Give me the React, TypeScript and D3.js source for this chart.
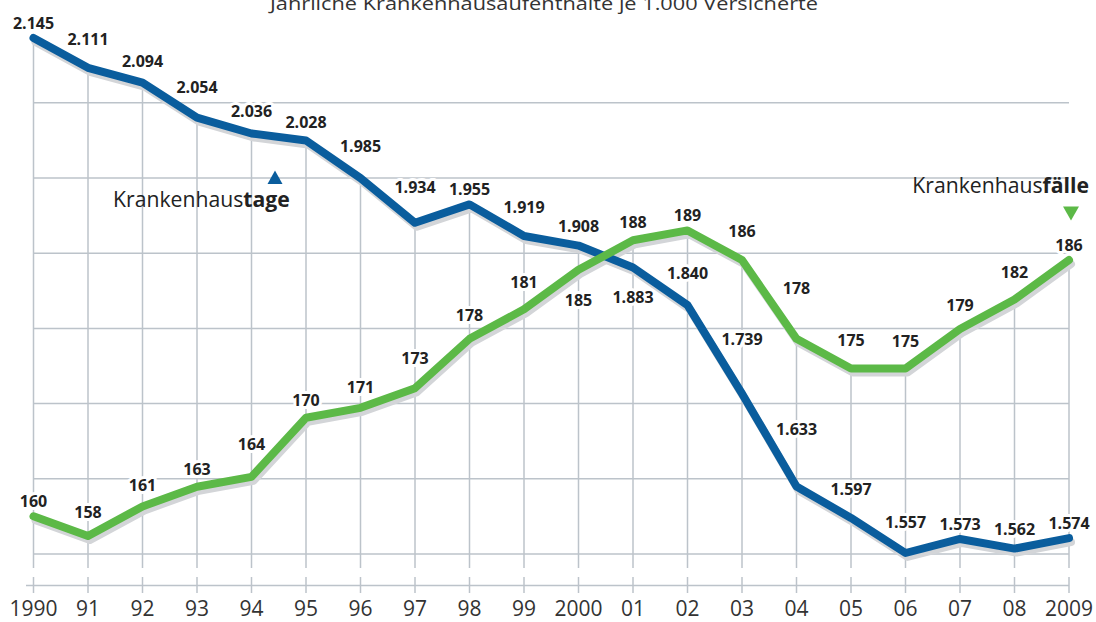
import React from "react";
import * as d3 from "d3";

// Jährliche Krankenhausaufenthalte je 1.000 Versicherte, 1990–2009
const years = [1990, 1991, 1992, 1993, 1994, 1995, 1996, 1997, 1998, 1999, 2000, 2001, 2002, 2003, 2004, 2005, 2006, 2007, 2008, 2009];
const yearLabels = ["1990", "91", "92", "93", "94", "95", "96", "97", "98", "99", "2000", "01", "02", "03", "04", "05", "06", "07", "08", "2009"];
const tage = [2145, 2111, 2094, 2054, 2036, 2028, 1985, 1934, 1955, 1919, 1908, 1883, 1840, 1739, 1633, 1597, 1557, 1573, 1562, 1574];
const faelle = [160, 158, 161, 163, 164, 170, 171, 173, 178, 181, 185, 188, 189, 186, 178, 175, 175, 179, 182, 186];
// years whose value label sits under the line
const tageBelow = [2001];
const faelleBelow = [2000];

const W = 1096;
const H = 622;
const BLUE = "#0a5d9d";
const GREEN = "#5cb947";
const SHADOW = "#d3d5d8";
const GRID = "#bcc3ca";
const TEXT = "#222";
const FONT = "'Open Sans', 'Noto Sans', sans-serif";

const fmt = (v: number) => (v >= 1000 ? d3.format(",")(v).replace(",", ".") : String(v));

// place the label above the point, pushed up when a steep segment runs into it
function labelY(ys: number[], i: number, below: boolean) {
  if (below) return ys[i] + 30;
  const dropIn = i > 0 ? ys[i] - ys[i - 1] : 0;
  const riseOut = i < ys.length - 1 ? ys[i] - ys[i + 1] : 0;
  return ys[i] - (15 + Math.max(0, 0.45 * dropIn, 0.3 * riseOut));
}

export default function App() {
  const x = d3.scalePoint<number>().domain(years).range([33.5, 1069]);
  const yTage = d3.scaleLinear().domain([1557, 2145]).range([553, 38]);
  const yFaelle = d3.scaleLinear().domain([158, 186]).range([536, 260]);

  const gridYs = d3.range(7).map((i) => 554 - i * 75.2);
  const axisY = 585.5;

  const tageYs = tage.map((v) => yTage(v));
  const faelleYs = faelle.map((v) => yFaelle(v));

  const line = d3
    .line<number>()
    .x((_, i) => x(years[i])!)
    .y((d) => d);

  const shadow = (ys: number[]) => line(ys.map((y) => y + 4))!;

  const series = [
    { key: "tage", ys: tageYs, vals: tage, color: BLUE, below: tageBelow },
    { key: "faelle", ys: faelleYs, vals: faelle, color: GREEN, below: faelleBelow },
  ];

  return (
    <svg
      width={W}
      height={H}
      style={{ position: "absolute", left: 0, top: 0, display: "block", background: "#fff" }}
      fontFamily={FONT}
    >
      <text
        x={544}
        y={10}
        textAnchor="middle"
        fontSize={19}
        fill="#333"
        textLength={548}
        lengthAdjust="spacingAndGlyphs"
      >
        Jährliche Krankenhausaufenthalte je 1.000 Versicherte
      </text>

      {/* grid */}
      <g stroke={GRID} strokeWidth={1.5} fill="none">
        {gridYs.map((gy, i) => (
          <line key={"h" + i} x1={33.5} x2={1069} y1={gy} y2={gy} />
        ))}
        {years.map((yr, i) => (
          <line
            key={"v" + yr}
            x1={x(yr)}
            x2={x(yr)}
            y1={Math.min(tageYs[i], faelleYs[i]) + 3}
            y2={568}
          />
        ))}
        <line x1={26} x2={1069} y1={axisY} y2={axisY} />
        {years.map((yr) => (
          <line key={"t" + yr} x1={x(yr)} x2={x(yr)} y1={577} y2={593} />
        ))}
      </g>

      {/* line shadows, then lines */}
      {series.map((s) => (
        <path
          key={"s" + s.key}
          d={shadow(s.ys)}
          transform="translate(2,0)"
          fill="none"
          stroke={SHADOW}
          strokeWidth={8}
          strokeLinejoin="round"
          strokeLinecap="round"
        />
      ))}
      {series.map((s) => (
        <path
          key={"l" + s.key}
          d={line(s.ys)!}
          fill="none"
          stroke={s.color}
          strokeWidth={8}
          strokeLinejoin="round"
          strokeLinecap="round"
        />
      ))}

      {/* value labels */}
      {series.map((s) =>
        s.vals.map((v, i) => (
          <text
            key={s.key + i}
            x={x(years[i])}
            y={labelY(s.ys, i, s.below.includes(years[i]))}
            dy="0.36em"
            textAnchor="middle"
            fontSize={16}
            fontWeight={700}
            fill={TEXT}
            stroke="#fff"
            strokeWidth={6}
            strokeLinejoin="round"
            paintOrder="stroke"
          >
            {fmt(v)}
          </text>
        ))
      )}

      {/* series names */}
      <text x={113} y={207} fontSize={21.2} fill={TEXT}>
        Krankenhaus<tspan fontWeight={700}>tage</tspan>
      </text>
      <path d="M275,170.5 L282.5,184 L267.5,184 Z" fill={BLUE} />
      <text x={1089} y={193} textAnchor="end" fontSize={21.2} fill={TEXT}>
        Krankenhaus<tspan fontWeight={700}>fälle</tspan>
      </text>
      <path d="M1063,206.5 L1079,206.5 L1071,220.5 Z" fill={GREEN} />

      {/* x axis labels */}
      {years.map((yr, i) => (
        <text key={"xl" + yr} x={x(yr)} y={616} textAnchor="middle" fontSize={21} fill="#333">
          {yearLabels[i]}
        </text>
      ))}
    </svg>
  );
}
